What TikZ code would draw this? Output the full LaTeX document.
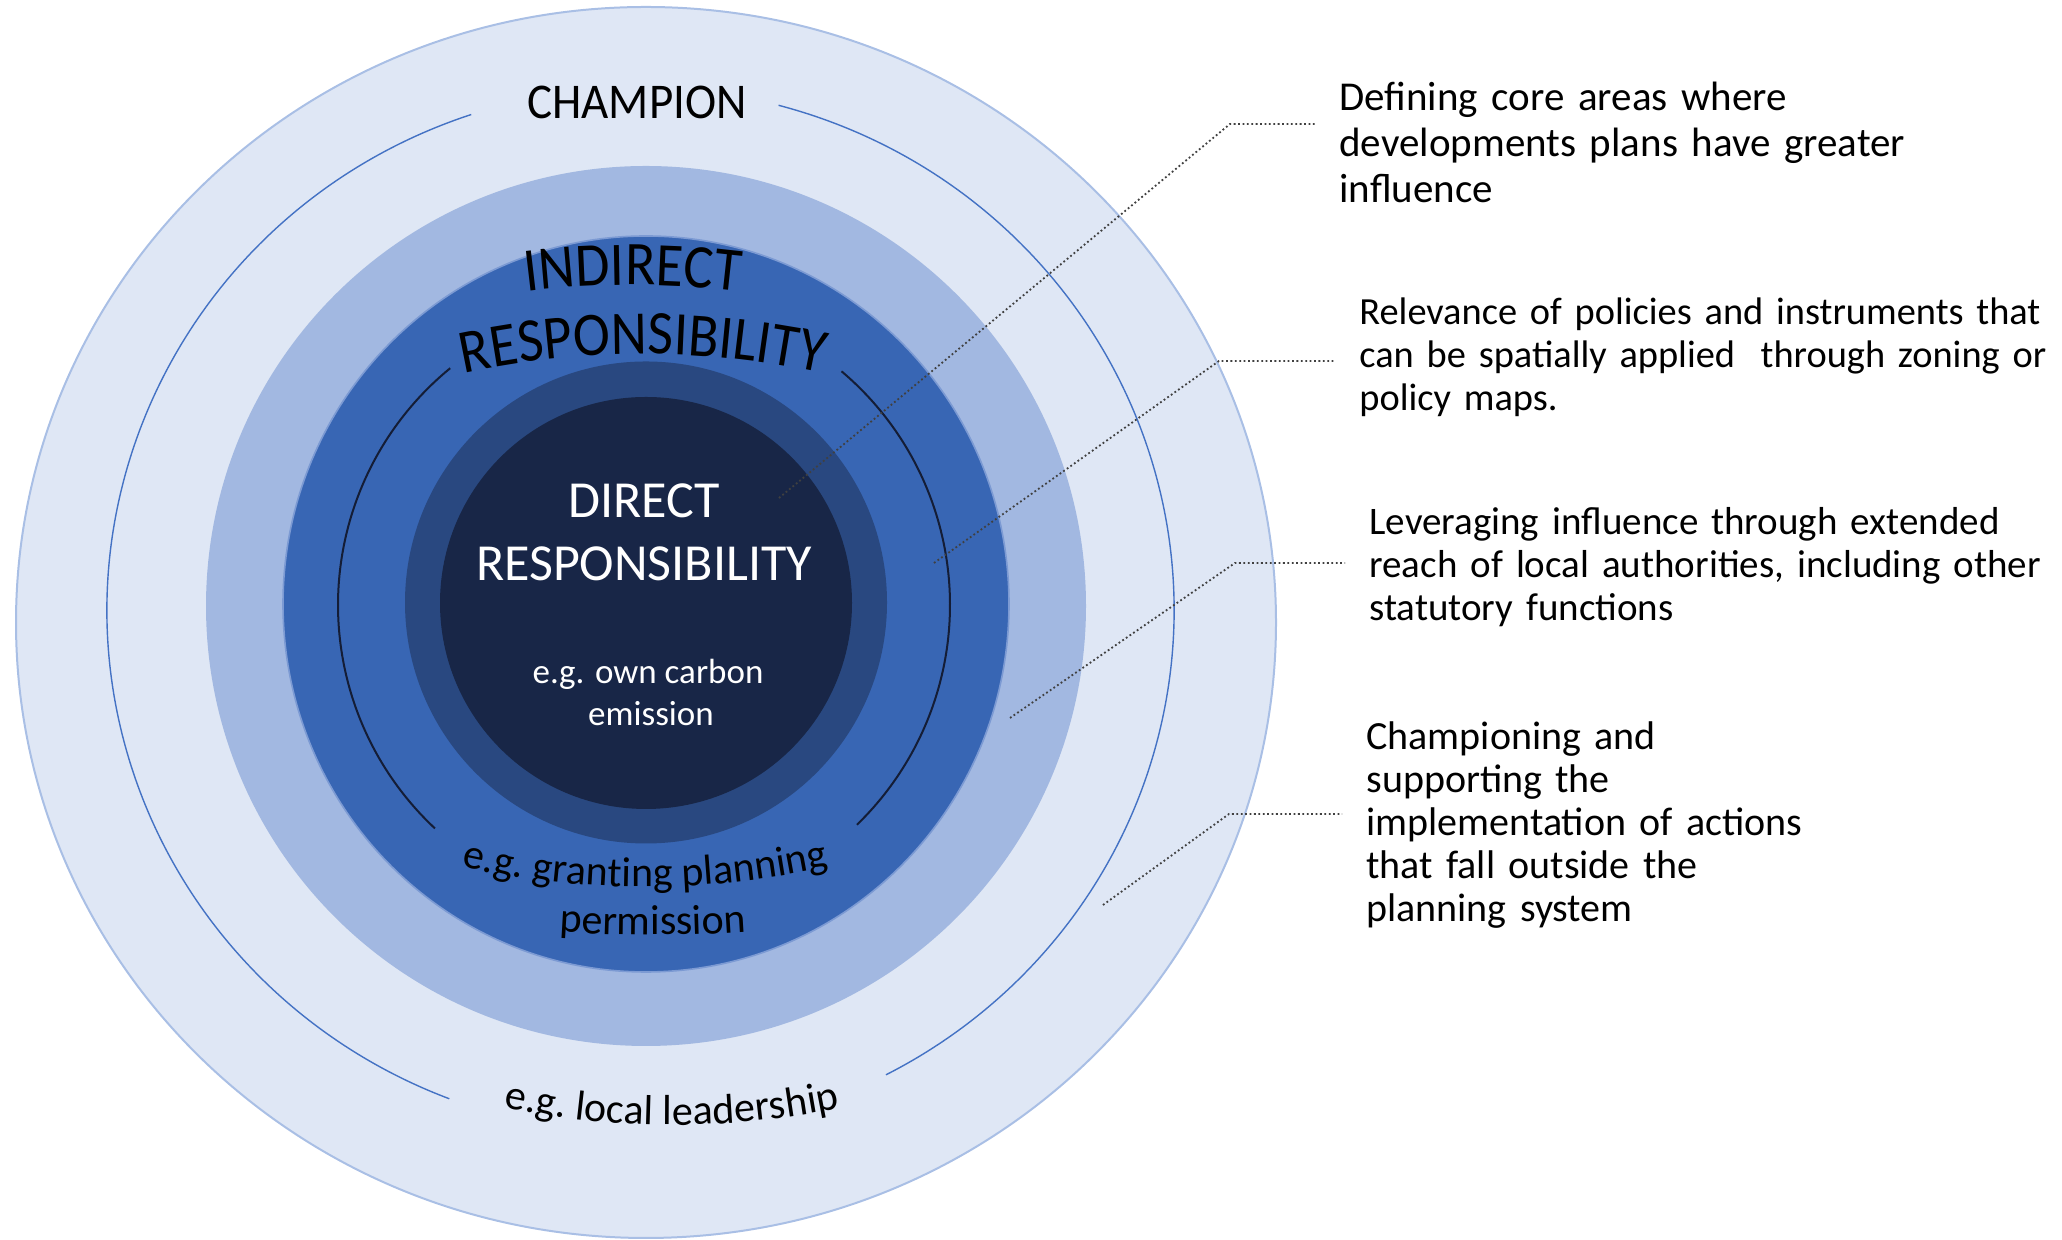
\documentclass[tikz,border=0pt]{standalone}
\usepackage{fontspec}
\setmainfont{Carlito}
\newfontfamily\narrowcarlito[FakeStretch=0.94]{Carlito}
\newfontfamily\archcarlito[FakeStretch=0.9]{Carlito}
\usetikzlibrary{decorations.text}

\definecolor{palering}{HTML}{DFE7F5}
\definecolor{paleedge}{HTML}{A9BFE5}
\definecolor{lightring}{HTML}{A2B8E1}
\definecolor{midring}{HTML}{3866B4}
\definecolor{midedge}{HTML}{7C9AD3}
\definecolor{darkring}{HTML}{294880}
\definecolor{corefill}{HTML}{182647}
\definecolor{arcblue}{HTML}{4472C4}
\definecolor{arcdark}{HTML}{141D36}
\definecolor{leadgray}{HTML}{404040}

\newcommand{\bigcaps}{\archcarlito\fontsize{31}{31}\selectfont}
\newcommand{\ringlabel}{\fontsize{21}{22}\selectfont}

\begin{document}
\begin{tikzpicture}[x=0.5pt, y=0.5pt,
    leader/.style={draw=leadgray, line width=0.9pt, dash pattern=on 0.9pt off 1.3pt},
    note/.style={anchor=base west, align=left, text width=450pt, inner sep=0pt,
                 font=\fontsize{20}{21.5}\selectfont},
    curved/.style={decorate, decoration={text along path, text align=center, text={#1}}}]

    \useasboundingbox (0,0) rectangle (2062,1240);

    % rings, outside in
    \filldraw[fill=palering, draw=paleedge, line width=1pt] (646,617.5) ellipse [x radius=630, y radius=615.5];
    \fill[lightring] (646,634) circle (440);
    \filldraw[fill=midring, draw=midedge, line width=0.8pt] (646,636) ellipse [x radius=363, y radius=368];
    \fill[darkring] (646,637.5) circle (241);
    \fill[corefill] (646,637) circle (206);

    % thin arcs
    \draw[arcblue, line width=0.7pt, shift={(640.5,629.5)}] (108.5:533.5 and 523) arc[start angle=108.5, end angle=249, x radius=533.5, y radius=523];
    \draw[arcblue, line width=0.7pt, shift={(640.5,629.5)}] (75:533.5 and 523) arc[start angle=75, end angle=-62.6, x radius=533.5, y radius=523];
    \draw[arcdark, line width=1pt, shift={(644,635)}] (129.3:306) arc[start angle=129.3, end angle=226.9, radius=306];
    \draw[arcdark, line width=1pt, shift={(644,635)}] (49.8:306) arc[start angle=49.8, end angle=-45.9, radius=306];

    % labels in the rings
    \node[font=\narrowcarlito\fontsize{25}{25}\selectfont, anchor=base] (champion) at (637,1121) {CHAMPION};
    \path[curved={|\bigcaps|INDIRECT}, shift={(633,100)}] (103:855) arc[start angle=103, end angle=77, radius=855];
    \path[curved={|\bigcaps|RESPONSIBILITY}, shift={(643,45)}] (106:841) arc[start angle=106, end angle=74, radius=841];
    \node[white, font=\fontsize{26}{31.5}\selectfont, anchor=base] (direct) at (644,722) {DIRECT};
    \node[white, font=\fontsize{26}{31.5}\selectfont, anchor=base] (directresp) at (644,659) {RESPONSIBILITY};
    \node[white, font=\fontsize{17.5}{21}\selectfont, anchor=base] (owncarbon) at (648,556) {e.g. own carbon};
    \node[white, font=\fontsize{17.5}{21}\selectfont, anchor=base] (emission) at (651,514) {emission};
    \path[curved={|\ringlabel|e.g. granting planning}, shift={(645,1203)}] (250:850) arc[start angle=250, end angle=290, radius=850];
    \path[curved={|\ringlabel|permission}, shift={(653,1705)}] (264:1400) arc[start angle=264, end angle=276, radius=1400];
    \path[curved={|\ringlabel|e.g. local leadership}, shift={(672,945)}] (255:830) arc[start angle=255, end angle=285, radius=830];

    % notes on the right
    \node[note, font=\fontsize{20.5}{23}\selectfont] (coreareas) at (1339,1129)
        {Defining core areas where\\developments plans have greater\\influence};
    \node[note, font=\fontsize{19.2}{21.5}\selectfont] (policies) at (1359,915)
        {Relevance of policies and instruments that\\can be spatially applied~ through zoning or\\policy maps.};
    \node[note, font=\fontsize{19.5}{21.5}\selectfont] (leverage) at (1369,705)
        {Leveraging influence through extended\\reach of local authorities, including other\\statutory functions};
    \node[note] (championing) at (1366,490)
        {Championing and\\supporting the\\implementation of actions\\that fall outside the\\planning system};

    % dotted leaders
    \coordinate (s1) at (779,742);  \coordinate (k1) at (1230,1116); \coordinate (e1) at (1315,1116);
    \coordinate (s2) at (934,677);  \coordinate (k2) at (1219,879);  \coordinate (e2) at (1335,879);
    \coordinate (s3) at (1010,522); \coordinate (k3) at (1235,677);  \coordinate (e3) at (1345,677);
    \coordinate (s4) at (1103,335); \coordinate (k4) at (1229,426);  \coordinate (e4) at (1342,426);
    \draw[leader] (s1) -- (k1) -- (e1);
    \draw[leader] (s2) -- (k2) -- (e2);
    \draw[leader] (s3) -- (k3) -- (e3);
    \draw[leader] (s4) -- (k4) -- (e4);
\end{tikzpicture}
\end{document}
